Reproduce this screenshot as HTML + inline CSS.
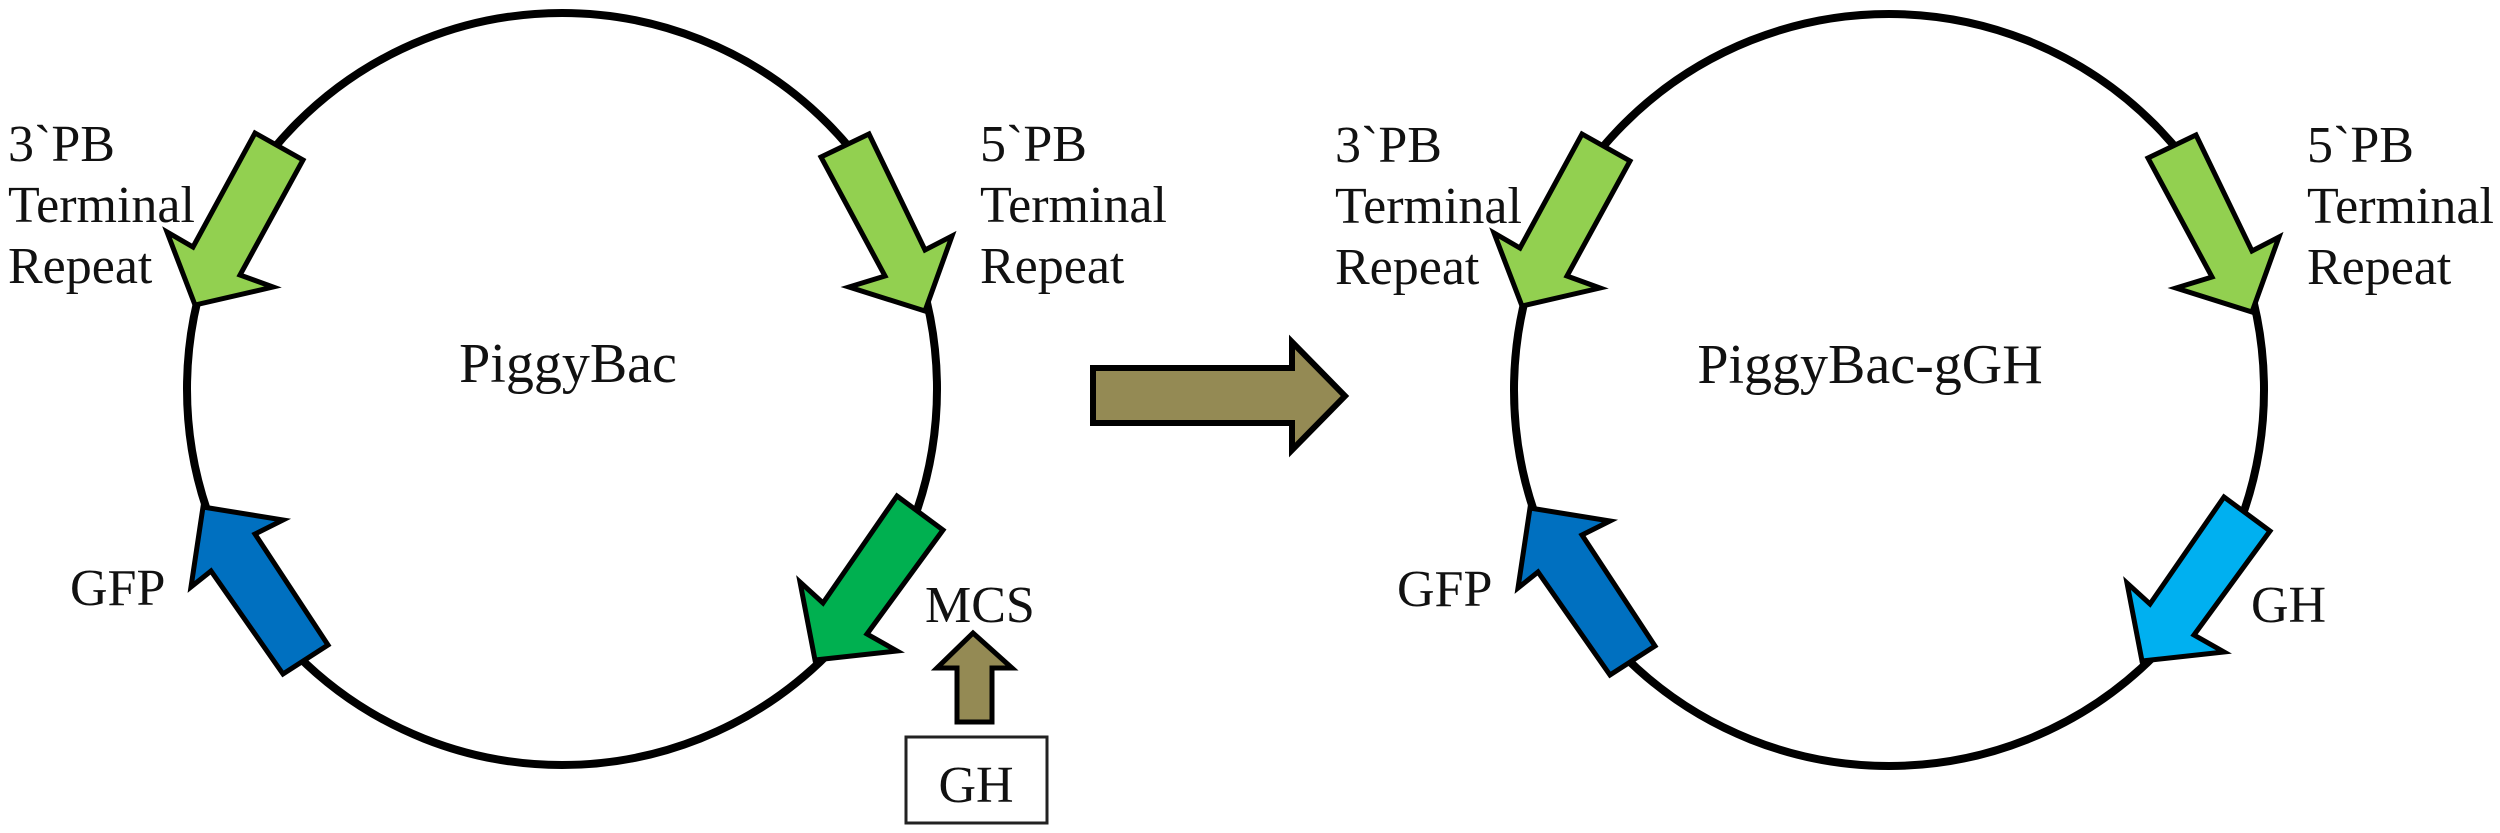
<!DOCTYPE html>
<html><head><meta charset="utf-8"><style>
html,body{margin:0;padding:0;background:#fff;}
svg{display:block;}
text{font-family:"Liberation Serif",serif;fill:#111;}
</style></head><body>
<svg width="2500" height="833" viewBox="0 0 2500 833" xmlns="http://www.w3.org/2000/svg">
<g id="L">
<ellipse cx="562" cy="389" rx="375" ry="376" fill="none" stroke="#000" stroke-width="8"/>
<polygon points="255,133 303,160 240,275 273,287 195,305 167,232 193,247" fill="#92D050" stroke="#000" stroke-width="5" stroke-linejoin="miter"/>
<polygon points="869,134 925,250 952,236 925,311 849,287 885,276 821,157" fill="#92D050" stroke="#000" stroke-width="5"/>
<polygon points="203,507 283,520 255,534 328,645 283,674 211,571 191,587" fill="#0070C0" stroke="#000" stroke-width="5"/>
<text x="8" y="161" font-size="52">3`PB</text>
<text x="8" y="222" font-size="52">Terminal</text>
<text x="8" y="283" font-size="52">Repeat</text>
<text x="980" y="161" font-size="52">5`PB</text>
<text x="980" y="222" font-size="52">Terminal</text>
<text x="980" y="283" font-size="52">Repeat</text>
<text x="70" y="605" font-size="52">GFP</text>
</g>
<polygon points="897,496 943,530 867,634 897,651 815,660 800,582 823,603" fill="#00B050" stroke="#000" stroke-width="5"/>
<text x="568" y="382" font-size="56" text-anchor="middle">PiggyBac</text>
<text x="925" y="622" font-size="52">MCS</text>
<polygon points="957,722 992,722 992,668 1012,668 973,633 937,668 957,668" fill="#948A54" stroke="#000" stroke-width="5"/>
<rect x="906" y="737" width="141" height="86" fill="#fff" stroke="#222" stroke-width="3"/>
<text x="976" y="802" font-size="52" text-anchor="middle">GH</text>
<polygon points="1093,368 1292,368 1292,342 1345,396 1292,450 1292,423 1093,423" fill="#948A54" stroke="#000" stroke-width="6"/>
<use href="#L" transform="translate(1327,1)"/>
<polygon points="2224,497 2270,531 2194,635 2224,652 2142,661 2127,583 2150,604" fill="#00B0F0" stroke="#000" stroke-width="5"/>
<text x="1870" y="383" font-size="56" text-anchor="middle">PiggyBac-gGH</text>
<text x="2251" y="622" font-size="52">GH</text>
</svg>
</body></html>
